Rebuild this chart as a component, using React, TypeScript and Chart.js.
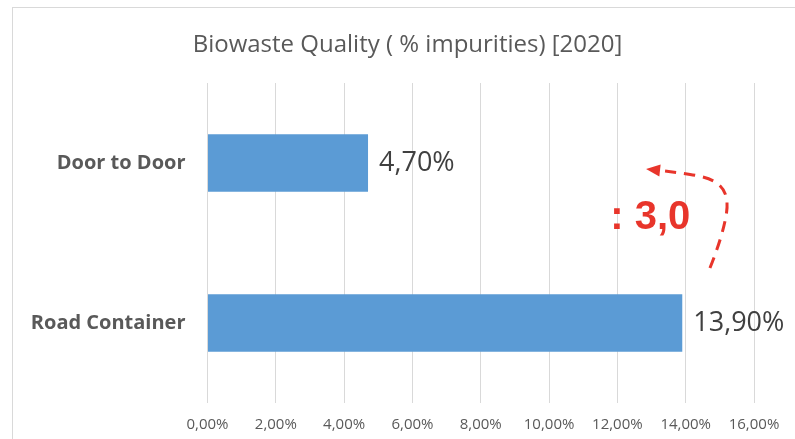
import React, { useEffect, useRef } from "react";
import { Chart, registerables } from "chart.js";

Chart.register(...registerables);

const categories = ["Door to Door", "Road Container"];
const impurities = [4.7, 13.9];
const xTicks = [0, 2, 4, 6, 8, 10, 12, 14, 16];
const titleText = "Biowaste Quality ( % impurities) [2020]";
const annotationText = ": 3,0";
// annotation anchor in data units (x value, category index)
const annotationPos = [11.79, 0.41];
// dashed arrow path in data units, from tail to head
const arrowPath: [number, number][] = [
  [14.71, 0.656],
  [14.92, 0.544],
  [15.15, 0.375],
  [15.24, 0.25],
  [15.1, 0.15],
  [14.63, 0.0875],
  [13.63, 0.056],
  [12.84, 0.0375],
];

const fmt = (v: number) => v.toFixed(2).replace(".", ",") + "%";
const TITLE_FONT = "24px 'Open Sans'";

const overlayPlugin = {
  id: "overlay",
  afterDraw(chart: any) {
    const ctx = chart.ctx;
    const xs = chart.scales.x;
    const ys = chart.scales.y;
    const meta = chart.getDatasetMeta(0);
    ctx.save();
    // title, centred on the framed chart box
    const tb = chart.titleBlock;
    ctx.font = TITLE_FONT;
    ctx.fillStyle = "#595959";
    ctx.textAlign = "center";
    ctx.textBaseline = "middle";
    ctx.fillText(titleText, chart.width / 2 + 10, tb.top + 30.6 + 14.4);
    // value labels
    ctx.font = "27px 'Open Sans'";
    ctx.fillStyle = "#404040";
    ctx.textAlign = "left";
    ctx.textBaseline = "middle";
    meta.data.forEach((bar: any, i: number) => {
      ctx.fillText(fmt(impurities[i]), bar.x + 11, bar.y);
    });
    ctx.font = "bold 40px 'Liberation Sans'";
    ctx.fillStyle = "#e8352b";
    ctx.textBaseline = "alphabetic";
    ctx.fillText(
      annotationText,
      xs.getPixelForValue(annotationPos[0]),
      ys.getPixelForValue(annotationPos[1])
    );
    const pts = arrowPath.map(([vx, vy]) => [
      xs.getPixelForValue(vx),
      ys.getPixelForValue(vy),
    ]);
    ctx.strokeStyle = "#e8352b";
    ctx.lineWidth = 3;
    ctx.setLineDash([11, 8]);
    ctx.beginPath();
    ctx.moveTo(pts[0][0], pts[0][1]);
    for (let i = 1; i < pts.length - 2; i++) {
      const mx = (pts[i][0] + pts[i + 1][0]) / 2;
      const my = (pts[i][1] + pts[i + 1][1]) / 2;
      ctx.quadraticCurveTo(pts[i][0], pts[i][1], mx, my);
    }
    const n = pts.length;
    const hx = pts[n - 1][0];
    const hy = pts[n - 1][1];
    const px = pts[n - 2][0];
    const py = pts[n - 2][1];
    const ang = Math.atan2(hy - py, hx - px);
    const baseX = hx - Math.cos(ang) * 14;
    const baseY = hy - Math.sin(ang) * 14;
    ctx.quadraticCurveTo(px, py, baseX, baseY);
    ctx.stroke();
    ctx.setLineDash([]);
    ctx.beginPath();
    ctx.moveTo(hx, hy);
    ctx.lineTo(baseX + Math.cos(ang + Math.PI / 2) * 6, baseY + Math.sin(ang + Math.PI / 2) * 6);
    ctx.lineTo(baseX - Math.cos(ang + Math.PI / 2) * 6, baseY - Math.sin(ang + Math.PI / 2) * 6);
    ctx.closePath();
    ctx.fillStyle = "#e8352b";
    ctx.fill();
    ctx.restore();
  },
};

export default function App() {
  const ref = useRef<HTMLCanvasElement | null>(null);
  useEffect(() => {
    if (!ref.current) return;
    const chart = new Chart(ref.current, {
      type: "bar",
      data: {
        labels: categories,
        datasets: [
          {
            data: impurities,
            backgroundColor: "#5b9bd5",
            borderWidth: 0,
            barPercentage: 0.36,
            categoryPercentage: 1,
          },
        ],
      },
      options: {
        indexAxis: "y",
        animation: false,
        responsive: false,
        maintainAspectRatio: false,
        layout: { padding: { top: 0, right: 41, bottom: 0, left: 0 } },
        plugins: {
          legend: { display: false },
          tooltip: { enabled: false },
          title: {
            display: true,
            text: titleText,
            color: "rgba(0,0,0,0)",
            font: { family: "'Open Sans'", size: 24, weight: "normal" },
            padding: { top: 30.6, bottom: 23.6 },
          },
        },
        scales: {
          x: {
            min: 0,
            max: 16,
            afterBuildTicks: (s: any) => {
              s.ticks = xTicks.map((v) => ({ value: v }));
            },
            afterFit: (s: any) => {
              s.height = 36;
            },
            grid: { color: "#d9d9d9", lineWidth: 1, drawTicks: false },
            border: { display: false },
            ticks: {
              color: "#595959",
              font: { family: "'Open Sans'", size: 15 },
              padding: 13,
              maxRotation: 0,
              callback: (v: any) => fmt(Number(v)),
            },
          },
          y: {
            grid: { display: false, drawTicks: false },
            border: { display: false },
            afterFit: (s: any) => {
              s.width = 207.5;
            },
            ticks: {
              color: "#595959",
              font: { family: "'Open Sans'", size: 20, weight: "bold" },
              padding: 22,
            },
          },
        },
      },
      plugins: [overlayPlugin],
    });
    return () => chart.destroy();
  }, []);
  return (
    <div style={{ position: "fixed", left: 0, top: 0, width: 795, height: 439, background: "#fff", overflow: "hidden" }}>
      <div
        style={{
          position: "absolute",
          left: 12,
          top: 7,
          width: 800,
          height: 450,
          border: "1px solid #d9d9d9",
          boxSizing: "border-box",
        }}
      />
      <canvas ref={ref} width={795} height={439} style={{ position: "absolute", left: 0, top: 0, width: 795, height: 439 }} />
    </div>
  );
}
